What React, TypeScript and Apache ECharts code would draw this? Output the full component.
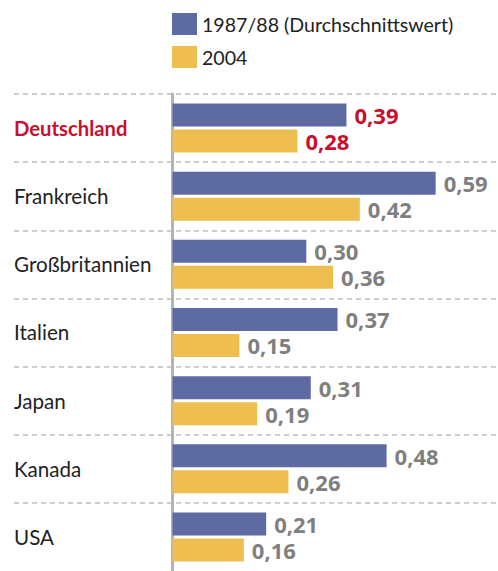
import React, { useEffect, useRef } from "react";
import * as echarts from "echarts";

const categories = ["Deutschland", "Frankreich", "Großbritannien", "Italien", "Japan", "Kanada", "USA"];
const values1987 = [0.39, 0.59, 0.3, 0.37, 0.31, 0.48, 0.21];
const values2004 = [0.28, 0.42, 0.36, 0.15, 0.19, 0.26, 0.16];
const seriesNames = ["1987/88 (Durchschnittswert)", "2004"];
const highlightIndex = 0;

const FONT = "Lato";
const NUM_FONT = "Open Sans";
const BLUE = "#5e6ba3";
const YELLOW = "#efbe50";
const RED = "#c8102e";
const GREY = "#7f7f7f";

const fmt = (v: number) => v.toFixed(2).replace(".", ",");

export default function App() {
  const ref = useRef<HTMLDivElement>(null);
  useEffect(() => {
    if (!ref.current) return;
    const chart = echarts.init(ref.current, null, { renderer: "svg" });
    const mkData = (vals: number[]) =>
      vals.map((v, i) => ({
        value: v,
        label: { color: i === highlightIndex ? RED : GREY },
      }));
    const barLabel = {
      show: true,
      position: "right",
      distance: 8,
      fontFamily: NUM_FONT,
      fontWeight: "bold",
      fontSize: 22,
      formatter: (p: any) => fmt(p.value),
    };
    const hiddenAxisParts = {
      axisLine: { show: false },
      axisTick: { show: false },
      axisLabel: { show: false },
      splitLine: { show: false },
    };
    const bandH = 68.14;
    const separatorCats = [...categories, ""];
    chart.setOption({
      animation: false,
      backgroundColor: "#ffffff",
      legend: {
        orient: "vertical",
        left: 172,
        top: 13,
        padding: 0,
        itemWidth: 25,
        itemHeight: 22,
        itemGap: 11,
        icon: "rect",
        textStyle: { fontFamily: FONT, fontSize: 19.6, color: "#222222" },
        data: seriesNames,
      },
      grid: [
        { left: 172.5, right: 0, top: 94, height: bandH * categories.length, containLabel: false, outerBoundsMode: "none" },
        { left: 14, right: 0, top: 94, height: bandH * separatorCats.length, containLabel: false, outerBoundsMode: "none" },
      ],
      xAxis: [
        { type: "value", gridIndex: 0, min: 0, max: 0.7298, ...hiddenAxisParts },
        { type: "value", gridIndex: 1, min: 0, max: 1, ...hiddenAxisParts },
      ],
      yAxis: [
        {
          type: "category",
          gridIndex: 0,
          inverse: true,
          data: categories,
          z: 1,
          axisLine: { show: true, lineStyle: { color: "#b4b4b4", width: 3 } },
          axisTick: { show: false },
          splitLine: { show: false },
          axisLabel: {
            interval: 0,
            margin: 8.5,
            formatter: (v: string, i: number) => (i === highlightIndex ? `{hl|${v}}` : `{n|${v}}`),
            rich: {
              hl: { fontFamily: FONT, fontSize: 20.3, fontWeight: "bold", color: RED, width: 150, align: "left" },
              n: { fontFamily: FONT, fontSize: 20.6, color: "#222222", width: 150, align: "left" },
            },
          },
        },
        {
          type: "category",
          gridIndex: 1,
          inverse: true,
          data: separatorCats,
          z: 0,
          axisLine: { show: false },
          axisTick: { show: false },
          axisLabel: { show: false },
          splitLine: {
            show: true,
            interval: (i: number) => i < categories.length,
            lineStyle: { color: "#bdbdbd", width: 1.5, type: [5, 4] },
          },
        },
      ],
      series: [
        {
          name: seriesNames[0],
          type: "bar",
          xAxisIndex: 0,
          yAxisIndex: 0,
          data: mkData(values1987),
          barWidth: 23,
          barGap: "13%",
          itemStyle: { color: BLUE },
          label: barLabel,
        },
        {
          name: seriesNames[1],
          type: "bar",
          xAxisIndex: 0,
          yAxisIndex: 0,
          data: mkData(values2004),
          barWidth: 23,
          barGap: "13%",
          itemStyle: { color: YELLOW },
          label: barLabel,
        },
      ],
    });
    return () => chart.dispose();
  }, []);
  return (
    <div style={{ position: "absolute", left: 0, top: 0, width: 498, height: 571, overflow: "hidden" }}>
      <div ref={ref} style={{ width: 498, height: 660 }} />
    </div>
  );
}
